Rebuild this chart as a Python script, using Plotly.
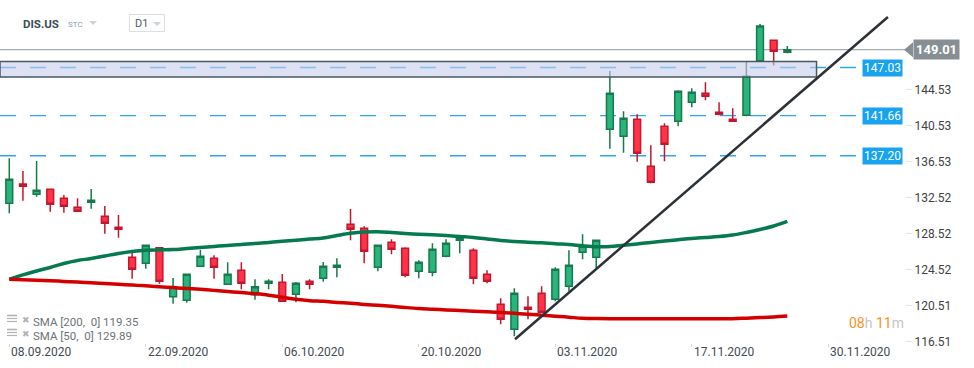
import plotly.graph_objects as go

# ---------------- data ----------------
dates = ["2020-09-08", "2020-09-09", "2020-09-10", "2020-09-11", "2020-09-14", "2020-09-15",
         "2020-09-16", "2020-09-17", "2020-09-18", "2020-09-21", "2020-09-22", "2020-09-23",
         "2020-09-24", "2020-09-25", "2020-09-28", "2020-09-29", "2020-09-30", "2020-10-01",
         "2020-10-02", "2020-10-05", "2020-10-06", "2020-10-07", "2020-10-08", "2020-10-09",
         "2020-10-12", "2020-10-13", "2020-10-14", "2020-10-15", "2020-10-16", "2020-10-19",
         "2020-10-20", "2020-10-21", "2020-10-22", "2020-10-23", "2020-10-26", "2020-10-27",
         "2020-10-28", "2020-10-29", "2020-10-30", "2020-11-02", "2020-11-03", "2020-11-04",
         "2020-11-05", "2020-11-06", "2020-11-09", "2020-11-10", "2020-11-11", "2020-11-12",
         "2020-11-13", "2020-11-16", "2020-11-17", "2020-11-18", "2020-11-19", "2020-11-20",
         "2020-11-23", "2020-11-24", "2020-11-25", "2020-11-27"]

opens = [131.91, 134.06, 132.91, 133.47, 132.47, 131.47, 132.02, 130.46, 129.24, 125.90,
         125.23, 126.97, 121.51, 121.11, 124.89, 125.79, 122.89, 124.45, 121.73, 123.00,
         123.11, 121.78, 123.22, 123.56, 124.78, 129.57, 129.13, 124.78, 127.57, 126.90,
         124.34, 124.23, 126.01, 127.79, 126.68, 124.00, 120.67, 117.88, 120.33, 121.89,
         121.22, 122.67, 126.46, 125.90, 140.15, 139.37, 141.27, 136.03, 140.49, 141.04,
         143.16, 144.16, 142.05, 141.27, 141.71, 147.79, 150.07, 148.73]
closes = [134.59, 133.80, 133.36, 131.80, 131.58, 131.02, 132.25, 129.69, 129.02, 124.56,
          127.23, 123.22, 122.56, 124.00, 126.01, 124.78, 124.00, 123.00, 122.62, 123.22,
          121.00, 123.00, 122.89, 124.89, 125.01, 129.02, 126.57, 127.23, 126.79, 123.89,
          125.34, 126.79, 127.46, 128.02, 123.56, 123.22, 118.99, 121.89, 120.11, 119.77,
          124.56, 125.01, 127.13, 127.79, 144.16, 141.38, 137.48, 134.25, 138.48, 144.39,
          144.27, 143.83, 141.83, 141.04, 146.05, 151.66, 148.84, 149.01]
highs = [136.92, 135.51, 136.62, 133.55, 132.83, 132.47, 133.50, 131.61, 130.61, 126.71,
         127.30, 127.00, 123.59, 124.05, 126.71, 126.12, 125.34, 125.34, 123.45, 123.45,
         124.04, 123.15, 123.45, 125.37, 125.79, 131.28, 129.35, 127.25, 127.90, 127.00,
         125.56, 127.46, 127.90, 128.27, 126.90, 124.45, 121.33, 122.45, 121.56, 122.67,
         124.78, 126.68, 128.46, 127.82, 146.65, 142.16, 141.82, 138.37, 140.82, 144.50,
         144.72, 145.39, 143.16, 142.49, 147.73, 151.88, 150.10, 149.43]
lows = [130.80, 132.20, 132.65, 130.98, 130.86, 130.98, 131.31, 128.53, 128.08, 123.51,
        124.63, 122.96, 120.73, 120.84, 124.85, 123.51, 122.85, 122.33, 121.18, 122.33,
        120.98, 120.89, 122.33, 123.18, 123.67, 127.79, 125.23, 124.34, 126.23, 123.67,
        123.56, 123.78, 125.90, 126.34, 122.89, 123.00, 118.44, 117.10, 118.99, 119.70,
        121.00, 122.11, 125.68, 124.67, 137.99, 137.55, 136.54, 134.14, 136.59, 140.49,
        142.60, 143.38, 141.72, 141.00, 141.60, 147.70, 147.24, 148.62]

sma50 = [123.45, 123.93, 124.37, 124.76, 125.21, 125.54, 125.76, 126.04, 126.32, 126.54,
         126.69, 126.72, 126.75, 126.87, 126.98, 127.10, 127.22, 127.33, 127.42, 127.55,
         127.68, 127.79, 127.92, 128.05, 128.32, 128.57, 128.71, 128.74, 128.66, 128.55,
         128.46, 128.40, 128.32, 128.21, 128.10, 127.94, 127.77, 127.66, 127.58, 127.51,
         127.40, 127.32, 127.18, 127.08, 127.09, 127.24, 127.38, 127.55, 127.71, 127.85,
         127.99, 128.10, 128.21, 128.38, 128.66, 128.99, 129.38, 129.89]
sma200 = [123.45, 123.39, 123.35, 123.29, 123.21, 123.14, 123.05, 122.97, 122.89, 122.80,
          122.72, 122.62, 122.52, 122.42, 122.33, 122.21, 122.09, 121.97, 121.84, 121.68,
          121.45, 121.22, 121.06, 120.99, 120.87, 120.77, 120.65, 120.55, 120.44, 120.30,
          120.18, 120.11, 120.03, 119.96, 119.89, 119.84, 119.76, 119.66, 119.56, 119.45,
          119.34, 119.22, 119.10, 119.07, 119.06, 119.06, 119.06, 119.06, 119.06, 119.06,
          119.06, 119.06, 119.06, 119.06, 119.12, 119.18, 119.25, 119.35]

tick_idx = [0, 10, 20, 30, 40, 50, 60]
tick_labels = ["08.09.2020", "22.09.2020", "06.10.2020", "20.10.2020",
               "03.11.2020", "17.11.2020", "30.11.2020"]
y_ticks = [144.53, 140.53, 136.53, 132.52, 128.52, 124.52, 120.51, 116.51]
levels = [147.03, 141.66, 137.20]
last_price = 149.01
zone_low, zone_high = 145.98, 147.70
zone_end_idx = 59.14
trend_x = [37.05, 64.37]
trend_y = [116.77, 152.66]
sma200_label = "SMA [200,  0] 119.35"
sma50_label = "SMA [50,  0] 129.89"

x = list(range(len(opens)))

# ---------------- geometry helpers (pixel -> paper) ----------------
W, H = 974, 368
PL, PR, PT, PB = 0, 905, 5, 343  # plot area in px


def xp(px):
    return (px - PL) / (PR - PL)


def yp(py):
    return (PB - py) / (PB - PT)


X_RANGE = [-0.68, -0.68 + (PR - PL) / 13.65]
Y_RANGE = [116.35, 153.99]

FONT = "Roboto"

fig = go.Figure()

fig.add_trace(go.Candlestick(
    x=x, open=opens, high=highs, low=lows, close=closes,
    increasing=dict(fillcolor="#28b47a", line=dict(color="#157a4c", width=1.5)),
    decreasing=dict(fillcolor="#ff3348", line=dict(color="#c2182f", width=1.5)),
    whiskerwidth=0, showlegend=False, hoverinfo="skip", customdata=dates))

fig.add_trace(go.Scatter(x=x, y=sma50, mode="lines",
                         line=dict(color="#047a4e", width=3.5, shape="spline"),
                         showlegend=False, hoverinfo="skip"))
fig.add_trace(go.Scatter(x=x, y=sma200, mode="lines",
                         line=dict(color="#d40000", width=3.5, shape="spline"),
                         showlegend=False, hoverinfo="skip"))

shapes = []
# dashed support/resistance levels
for lv in levels:
    shapes.append(dict(type="line", xref="paper", yref="y", x0=0, x1=xp(858), y0=lv, y1=lv,
                       line=dict(color="#2aa8ea", width=1.3, dash="16px,14px"), layer="below"))
# last price line
shapes.append(dict(type="line", xref="paper", yref="y", x0=0, x1=1, y0=last_price, y1=last_price,
                   line=dict(color="#8c979c", width=1), layer="below"))
# zone
shapes.append(dict(type="rect", xref="x", yref="y", x0=X_RANGE[0], x1=zone_end_idx,
                   y0=zone_low, y1=zone_high, fillcolor="rgba(200,204,236,0.6)",
                   line=dict(color="#4b5862", width=1.5), layer="above"))
# trend line
shapes.append(dict(type="line", xref="x", yref="y", x0=trend_x[0], x1=trend_x[1],
                   y0=trend_y[0], y1=trend_y[1], line=dict(color="#2b3136", width=2.5),
                   layer="above"))
# last price label arrow
u = 7.5 / 8.98
shapes.append(dict(type="path", xref="paper", yref="y",
                   path=f"M {xp(904)} {last_price} L {xp(913)} {last_price + u} "
                        f"L {xp(913)} {last_price - u} Z",
                   fillcolor="#878f94", line=dict(width=0), layer="above"))

# header: dropdown triangles and D1 box
shapes.append(dict(type="path", xref="paper", yref="paper",
                   path=f"M {xp(89)} {yp(21)} L {xp(97)} {yp(21)} L {xp(93)} {yp(25)} Z",
                   fillcolor="#cfd3d6", line=dict(width=0)))
shapes.append(dict(type="rect", xref="paper", yref="paper", x0=xp(129.5), x1=xp(164.5),
                   y0=yp(31.5), y1=yp(14.5), line=dict(color="#dcdfe2", width=1),
                   fillcolor="rgba(0,0,0,0)"))
shapes.append(dict(type="path", xref="paper", yref="paper",
                   path=f"M {xp(153)} {yp(22)} L {xp(161)} {yp(22)} L {xp(157)} {yp(26)} Z",
                   fillcolor="#cfd3d6", line=dict(width=0)))

# legend list icons
for row_y in (318.5, 332.5):
    for dy in (-3, 0, 3):
        shapes.append(dict(type="line", xref="paper", yref="paper", x0=xp(7), x1=xp(17),
                           y0=yp(row_y + dy), y1=yp(row_y + dy),
                           line=dict(color="#b3b3b3", width=1.6 if dy == -3 else 1.2)))

annotations = []
# x tick labels (left aligned at tick)
for ti, tl in zip(tick_idx, tick_labels):
    annotations.append(dict(x=ti, xref="x", y=yp(352), yref="paper", text=tl,
                            showarrow=False, xanchor="left", yanchor="middle", xshift=0,
                            font=dict(family=FONT, size=12, color="#444b52")))
# level labels
for lv in levels:
    annotations.append(dict(x=xp(903), xref="paper", y=lv, yref="y", text=f"{lv:.2f}",
                            showarrow=False, xanchor="right", yanchor="middle",
                            bgcolor="#17a3ee", borderpad=1,
                            font=dict(family=FONT, size=12, color="white")))
# last price label
annotations.append(dict(x=xp(913), xref="paper", y=last_price, yref="y", text=f"<b>{last_price:.2f}</b>",
                        showarrow=False, xanchor="left", yanchor="middle",
                        bgcolor="#878f94", borderpad=2,
                        font=dict(family=FONT, size=13, color="white")))
# header
annotations.append(dict(x=xp(21), xref="paper", y=yp(23.5), yref="paper", text="<b>DIS.US</b>",
                        showarrow=False, xanchor="left", yanchor="middle",
                        font=dict(family=FONT, size=11.5, color="#3e4b57")))
annotations.append(dict(x=xp(66), xref="paper", y=yp(24.5), yref="paper", text="STC",
                        showarrow=False, xanchor="left", yanchor="middle",
                        font=dict(family=FONT, size=8, color="#8b9bab")))
annotations.append(dict(x=xp(133), xref="paper", y=yp(23), yref="paper", text="D1",
                        showarrow=False, xanchor="left", yanchor="middle",
                        font=dict(family=FONT, size=11, color="#555b61")))
# legend rows
for row_y, lab in ((321.5, sma200_label), (335.5, sma50_label)):
    annotations.append(dict(x=xp(20), xref="paper", y=yp(row_y - 2), yref="paper", text="✖",
                            showarrow=False, xanchor="left", yanchor="middle",
                            font=dict(family="DejaVu Sans", size=9, color="#b3b3b3")))
    annotations.append(dict(x=xp(31), xref="paper", y=yp(row_y), yref="paper", text=lab,
                            showarrow=False, xanchor="left", yanchor="middle",
                            font=dict(family=FONT, size=11.5, color="#6d7378")))
# timer
annotations.append(dict(x=xp(847), xref="paper", y=yp(323), yref="paper",
                        text='<span style="color:#f7931e">08</span><span style="color:#c3c6c9">h</span> '
                             '<span style="color:#f7931e">11</span><span style="color:#c3c6c9">m</span>',
                        showarrow=False, xanchor="left", yanchor="middle",
                        font=dict(family=FONT, size=14)))

fig.update_layout(
    width=W, height=H,
    margin=dict(l=PL, r=W - PR, t=PT, b=H - PB),
    paper_bgcolor="white", plot_bgcolor="white",
    showlegend=False,
    boxgap=0.5, boxgroupgap=0,
    shapes=shapes, annotations=annotations,
    xaxis=dict(range=X_RANGE, rangeslider=dict(visible=False), showgrid=False, zeroline=False,
               showline=False, tickvals=tick_idx, ticktext=[""] * len(tick_idx),
               ticks="outside", ticklen=3, tickcolor="#d5d8da", fixedrange=True),
    yaxis=dict(range=Y_RANGE, side="right", showgrid=False, zeroline=False, showline=False,
               tickvals=y_ticks, ticktext=[f"{v:.2f}" for v in y_ticks],
               ticks="outside", ticklen=6, tickcolor="#e2e4e6",
               tickfont=dict(family=FONT, size=12, color="#3d4246"), fixedrange=True),
    font=dict(family=FONT),
)

fig.write_html("out.html", config={"displayModeBar": False},
               post_script="document.body.style.margin='0px';document.body.style.overflow='hidden';")
